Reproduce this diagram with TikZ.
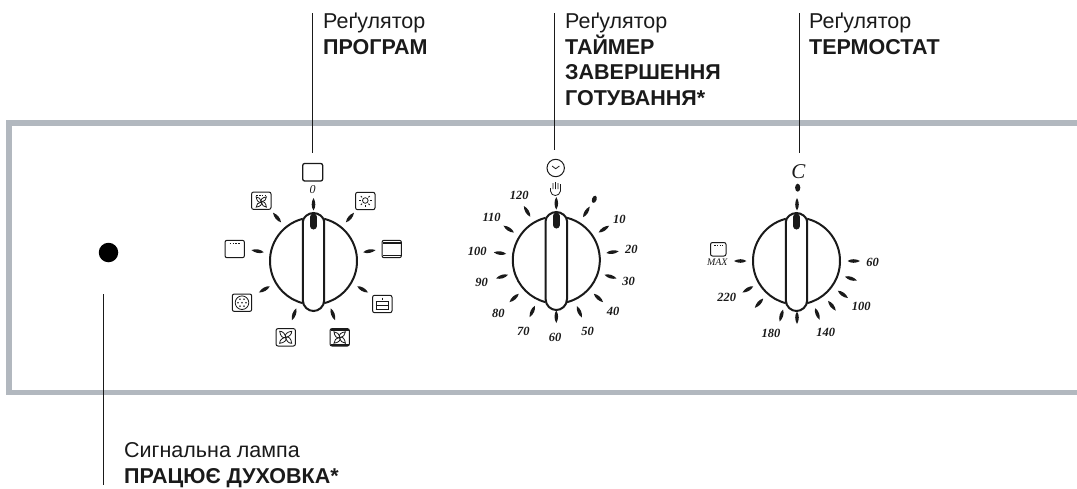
\documentclass[tikz,border=0pt]{standalone}
\usepackage{fontspec}
\setmainfont{Liberation Sans}
\newfontfamily\dialfont{Liberation Serif}
\definecolor{panelgrey}{HTML}{B2B8BF}
\definecolor{inkgrey}{HTML}{1A1A1A}
\tikzset{
  leader/.style = {line width=0.9pt, draw=inkgrey},
  caption/.style = {anchor=north west, inner sep=0pt, align=left, font=\fontsize{21.5}{25.6}\selectfont, text=inkgrey},
  dialnum/.style = {inner sep=0pt, font=\dialfont\itshape\bfseries\fontsize{12.5}{12.5}\selectfont, text=inkgrey},
  iconbox/.style = {line width=1pt, draw=inkgrey, rounded corners=2pt},
  iconline/.style = {line width=0.8pt, draw=inkgrey},
  pics/dialtick/.style = {code={
      \fill [inkgrey] (50.5,0) .. controls (54,2.4) and (59,2.4) .. (63,0) .. controls (59,-2.4) and (54,-2.4) .. (50.5,0);}},
  pics/knob/.style = {code={
      \draw [line width=2pt, inkgrey] (10.7,-42.2) arc [start angle=-75.8, end angle=75.8, radius=43.5];
      \draw [line width=2pt, inkgrey] (-10.7,-42.2) arc [start angle=-104.2, end angle=-255.8, radius=43.5];
      \draw [line width=2pt, inkgrey, fill=white] (-10.7,-39) .. controls (-10.7,-44) and (-5,-48) .. (0,-48)
        .. controls (5,-48) and (10.7,-44) .. (10.7,-39) -- (10.7,39)
        .. controls (10.7,46) and (5,50) .. (0,50) .. controls (-5,50) and (-10.7,46) .. (-10.7,39) -- cycle;
      \draw [line width=7pt, line cap=round, inkgrey] (0,-44) -- (0,-35);}},
  pics/ovenbox/.style = {code={
      \draw [iconbox] (-9.7,-8.7) rectangle (9.7,8.7);}},
  pics/fanblades/.style = {code={
      \foreach \a in {0,90,180,270}{
      \draw [iconline, rotate=\a] (0,0) .. controls (-1.5,-3) and (1.5,-5.5) .. (6,-6)
        .. controls (6.2,-3) and (3.5,-0.5) .. (0,0);}}},
  pics/topdots/.style = {code={
      \draw [iconline, line width=1.1pt, dash pattern=on 1.5pt off 1.3pt] (-5,-5.5) -- (5,-5.5);}}
}

\begin{document}
\begin{tikzpicture}[x=1pt,y=-1pt]
      \useasboundingbox (0,0) rectangle (1077,488);
      \draw [panelgrey, line width=5.5pt] (1080,123) -- (9,123) -- (9,392.5) -- (1080,392.5);

      \coordinate (leadprog) at (312,13);
      \coordinate (knobprog) at (312,153);
      \coordinate (leadtimer) at (554,13);
      \coordinate (knobtimer) at (554,150);
      \coordinate (leadtherm) at (799,13);
      \coordinate (knobtherm) at (799,153);
      \coordinate (lamptail) at (103.5,294);
      \coordinate (lampfoot) at (103.5,485);
      \draw [leader] (leadprog) -- (knobprog);
      \draw [leader] (leadtimer) -- (knobtimer);
      \draw [leader] (leadtherm) -- (knobtherm);
      \draw [leader] (lamptail) -- (lampfoot);

      \node [caption] (capprog) at (323,13) {Реґулятор\\\textbf{ПРОГРАМ}};
      \node [caption] (captimer) at (565,13) {Реґулятор\\\textbf{ТАЙМЕР}\\\textbf{ЗАВЕРШЕННЯ}\\\textbf{ГОТУВАННЯ*}};
      \node [caption] (captherm) at (809,13) {Реґулятор\\\textbf{ТЕРМОСТАТ}};
      \node [caption] (caplamp) at (124,442.5) {Сигнальна лампа\\\textbf{ПРАЦЮЄ ДУХОВКА*}};

      \node [circle, fill=black, minimum size=19.5pt, inner sep=0pt] (lamp) at (108.5,252.5) {};

      \pic at (313.5,261) {knob};
      \foreach \a in {90,50,10,-30,-70,-110,-150,170,130}{
      \pic [rotate=\a] at (313.5,261) {dialtick};}
      \pic at (556.3,260) {knob};
      \foreach \a in {90,58,33,8,-17,-42,-66,-90,-115,-138,-163,173,147,121}{
      \pic [rotate=\a] at (556.3,260) {dialtick};}
      \pic at (796.5,261) {knob};
      \foreach \a in {90,0,-18,-36,-52,-69,-90,-106,-132,-150,180}{
      \pic [rotate=\a] at (797,261) {dialtick};}

      \foreach \x/\y/\t in {519.3/195.3/120, 491.7/217.3/110, 477.3/251/100, 481.7/282.7/90, 498.3/313.3/80,
        523.3/331.7/70, 555/337.3/60, 587.7/331/50, 613/311/40, 628.7/281.3/30, 631.3/249.3/20, 619.3/219/10}{
      \node [dialnum] (timer\t) at (\x,\y) {\t};}
      \foreach \x/\y/\t in {872.7/262.3/60, 861.3/306/100, 825.7/332.7/140, 771/333.3/180, 726.7/297.3/220}{
      \node [dialnum] (therm\t) at (\x,\y) {\t};}
      \node [dialnum, font=\dialfont\itshape\fontsize{12}{12}\selectfont] (zero) at (312.7,190) {0};
      \node [dialnum, font=\dialfont\itshape\fontsize{10}{10}\selectfont] (maxlabel) at (717.3,262.3) {MAX};
      \node [dialnum, font=\dialfont\itshape\fontsize{21}{21}\selectfont] (celsius) at (798.3,171.7) {C};

      \fill [inkgrey, rotate around={-20:(594.3,199.3)}] (594.3,199.3) ellipse (2.3 and 3.8);
      \fill [inkgrey] (797.7,187.7) ellipse (2.6 and 4);

      % programme symbols
      \draw [iconbox, line width=1.3pt] (302.7,163.5) rectangle (322.7,181);
      \pic at (365.3,201) {ovenbox};
      \draw [iconline] (365.3,200.5) circle (2.8);
      \foreach \a in {0,45,135,180,225,270,315}{
      \draw [iconline, shift={(365.3,200.5)}, rotate=\a] (4.5,0) -- (6.3,0);}
      \pic at (391.7,249) {ovenbox};
      \draw [inkgrey, line width=1.3pt] (383,243) -- (400.5,243);
      \draw [inkgrey, line width=1.3pt] (383,255.5) -- (400.5,255.5);
      \pic at (382.3,304) {ovenbox};
      \draw [iconline, line width=1pt] (375.5,301) -- (389,301) (375.5,305) -- (389,305) (375.5,309) -- (389,309);
      \draw [iconline] (376.5,301) -- (376.5,309) (388,301) -- (388,309) (382.3,297.5) -- (382.3,300);
      \pic at (339.7,337.3) {ovenbox};
      \draw [iconline, line width=1.1pt] (331,330) -- (348.5,330) (331,345) -- (348.5,345);
      \pic [scale=0.95] at (339.7,337.5) {fanblades};
      \pic at (285.7,337.3) {ovenbox};
      \pic at (285.7,337.3) {fanblades};
      \pic at (242,302.7) {ovenbox};
      \draw [iconline] (242,302.7) circle (6.8);
      \foreach \a in {0,60,120,180,240,300}{
      \fill [inkgrey, shift={(242,302.7)}, rotate=\a] (4,0) circle (0.9);}
      \fill [inkgrey] (242,302.7) circle (0.9);
      \pic at (234.7,249) {ovenbox};
      \pic at (234.7,249) {topdots};
      \pic at (261.3,200.7) {ovenbox};
      \pic at (261.3,200.7) {topdots};
      \pic [scale=0.85] at (261.3,202) {fanblades};

      % timer symbols
      \draw [inkgrey, line width=1pt] (555.7,168) circle (8.7);
      \draw [iconline] (552,166) -- (555.7,168.7) -- (559.4,166);
      \draw [iconline] (550.5,188) -- (550.5,191) .. controls (551,197) and (559.5,197) .. (560.5,191) -- (560.5,184)
        (553,189) -- (553,183) (555.5,189) -- (555.5,182) (558,189) -- (558,183);

      % thermostat symbol
      \draw [iconbox] (710.5,242.5) rectangle (726,256);
      \draw [iconline, line width=1.1pt, dash pattern=on 1.5pt off 1.3pt] (714,245.5) -- (723,245.5);
    \end{tikzpicture}
\end{document}
